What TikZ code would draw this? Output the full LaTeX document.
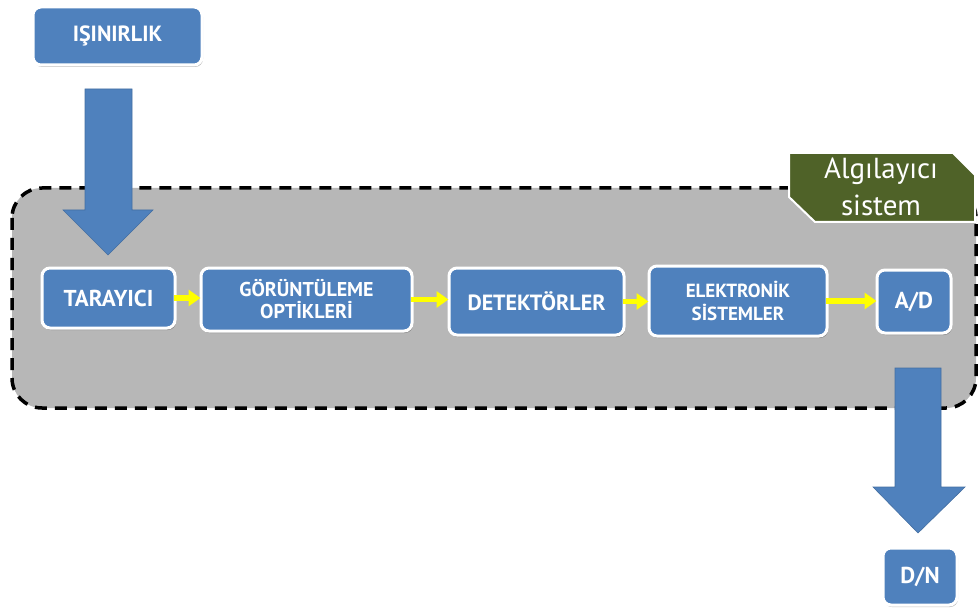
\documentclass[tikz,border=0pt]{standalone}
\usepackage{fontspec}
\setmainfont{PT Sans}
\usetikzlibrary{arrows.meta,shadows}
\definecolor{boxblue}{RGB}{79,129,189}
\definecolor{arrowblue}{RGB}{79,129,189}
\definecolor{panelgray}{RGB}{183,183,183}
\definecolor{tagolive}{RGB}{79,98,40}
\definecolor{flowyellow}{RGB}{255,255,0}
\tikzset{
  stagebox/.style={draw=white, line width=3pt, fill=boxblue, rounded corners=8pt,
    text=white, align=center, inner sep=2pt,
    drop shadow={shadow xshift=1pt, shadow yshift=-2pt, opacity=0.25, fill=black}},
  flow/.style={draw=flowyellow, line width=5.5pt,
    -{Triangle[length=12pt,width=16pt]}, shorten <=-3pt, shorten >=-1pt},
  bigarrow/.style={fill=arrowblue, draw=arrowblue!85!black, line width=0.6pt},
  panel/.style={fill=panelgray, draw=black, line width=3.5pt,
    dash pattern=on 12pt off 8pt, rounded corners=30pt},
  tag/.style={fill=tagolive, draw=white, line width=2pt}
}
\begin{document}
\begin{tikzpicture}[x=1pt,y=-1pt]
\useasboundingbox (0,0) rectangle (979,612);

% sensor system panel
\draw[panel] (12,188) rectangle (976,408);

% label tag of the panel (two snipped corners)
\draw[tag] (789,153) -- (953,153) -- (975,175) -- (975,222) -- (815,222) -- (789,197) -- cycle;
\node[text=white, align=center, font=\fontsize{29}{37}\selectfont] (tagtext) at (881,187) {Algılayıcı\\sistem};

% source box
\node[stagebox, minimum width=169pt, minimum height=58pt, font=\bfseries\fontsize{22}{24}\selectfont] (isin) at (117.5,36) {IŞINIRLIK};

% chain of stages
\node[stagebox, minimum width=133pt, minimum height=60pt, font=\bfseries\fontsize{23}{24}\selectfont] (tar) at (108.5,298) {TARAYICI};
\node[stagebox, minimum width=211pt, minimum height=63pt, font=\bfseries\fontsize{20}{22}\selectfont] (gor) at (306.5,299.5) {GÖRÜNTÜLEME\\OPTİKLERİ};
\node[stagebox, minimum width=175pt, minimum height=67pt, font=\bfseries\fontsize{22}{24}\selectfont] (det) at (536.5,301.5) {DETEKTÖRLER};
\node[stagebox, minimum width=178pt, minimum height=70pt, font=\bfseries\fontsize{19}{23}\selectfont] (ele) at (738,301) {ELEKTRONİK\\SİSTEMLER};
\node[stagebox, minimum width=74pt, minimum height=63pt, font=\bfseries\fontsize{23}{24}\selectfont] (ad) at (914,301.5) {A/D};

% output box
\node[stagebox, minimum width=74pt, minimum height=57pt, font=\bfseries\fontsize{23}{24}\selectfont] (dn) at (920,576.5) {D/N};

% yellow flow arrows between stages
\draw[flow] (tar.east) -- (gor.west |- tar.east);
\draw[flow] (gor.east) -- (det.west |- gor.east);
\draw[flow] (det.east) -- (ele.west |- det.east);
\draw[flow] (ele.east) -- (ad.west |- ele.east);

% large block arrows: radiation in, digital number out
\coordinate (inTip) at (108,255);
\coordinate (outTip) at (918,533);
\draw[bigarrow] (85,89) -- (132,89) -- (132,210) -- (153,210) -- (inTip) -- (63,210) -- (85,210) -- cycle;
\draw[bigarrow] (895,368) -- (941,368) -- (941,487) -- (965,487) -- (outTip) -- (873,487) -- (895,487) -- cycle;
\end{tikzpicture}
\end{document}
